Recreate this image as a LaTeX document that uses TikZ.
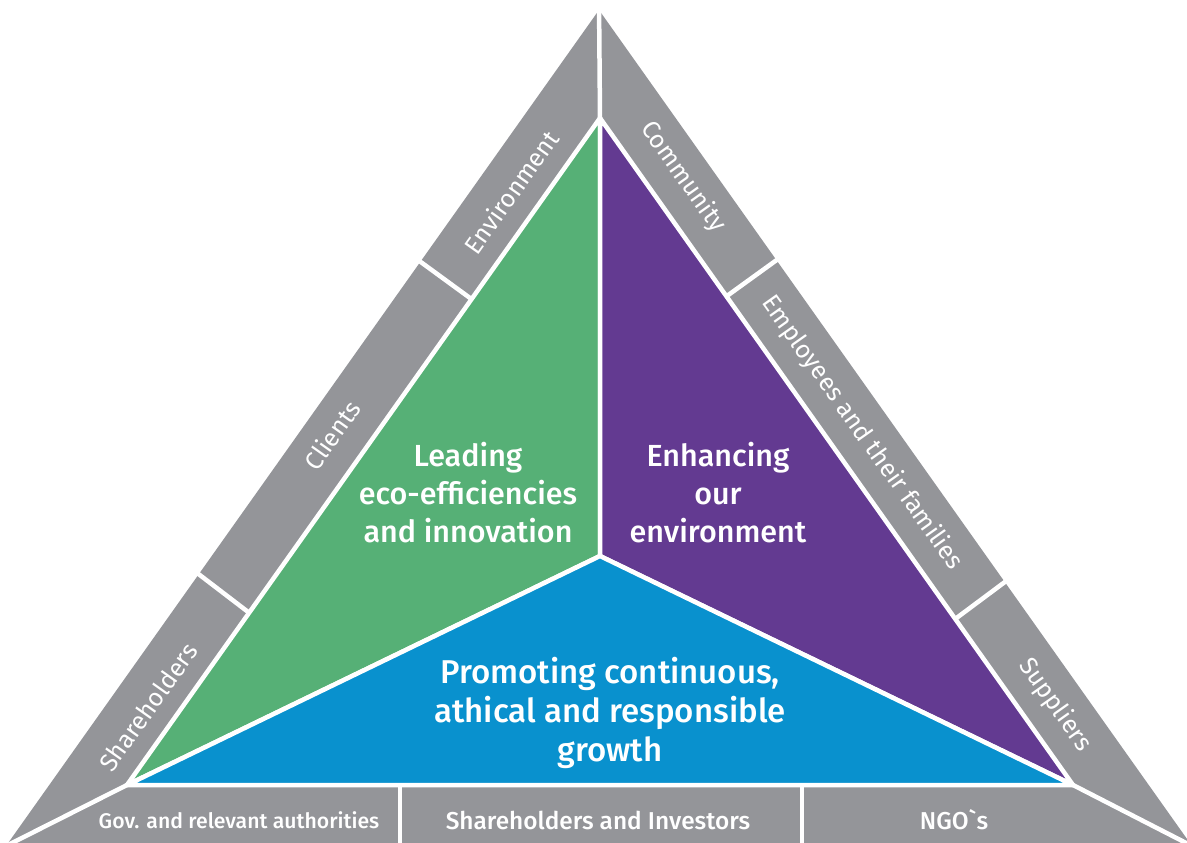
\documentclass[tikz,border=0pt]{standalone}
\usepackage{fontspec}
\setmainfont{Fira Sans}[BoldFont={Fira Sans SemiBold}]
\newfontfamily\firamedium{Fira Sans Medium}
\definecolor{bandgray}{RGB}{148,149,153}
\definecolor{leafgreen}{RGB}{86,176,118}
\definecolor{royalpurple}{RGB}{99,58,145}
\definecolor{skyblue}{RGB}{9,145,206}
\begin{document}
\begin{tikzpicture}[x=1pt,y=-1pt,
  sepline/.style={white,line width=4.5pt},
  sector/.style={draw=white,line width=4.5pt,line join=round},
  bandlabel/.style={text=white,font=\fontsize{25}{30}\selectfont,inner sep=0pt},
  baselabel/.style={text=white,font=\firamedium\fontsize{24.4}{30}\selectfont,inner sep=0pt},
  corelabel/.style={text=white,align=center,font=\firamedium\fontsize{30.5}{38}\selectfont,inner sep=0pt}]
\useasboundingbox (0,0) rectangle (1187,843);
\coordinate (OA) at (599,10);
\coordinate (OL) at (6,846);
\coordinate (OR) at (1192,846);
\coordinate (IA) at (600,118);
\coordinate (IL) at (127,785);
\coordinate (IR) at (1073,785);
\coordinate (C) at (600,556);
\begin{scope}
\clip (0,0) rectangle (1187,843);
\fill[bandgray] (OL) -- (OA) -- (OR) -- cycle;
% separators in the grey band
\draw[sepline] (599,0) -- (IA);
\draw[sepline] (IL) -- (OL);
\draw[sepline] (IR) -- (OR);
\draw[sepline] (392,241) -- (496,317);
\draw[sepline] (171,553) -- (273,631);
\draw[sepline] (803,241) -- (702,314);
\draw[sepline] (1029,564) -- (931,637);
\draw[sepline] (400,780) -- (400,850);
\draw[sepline] (802,780) -- (802,850);
% inner triangle
\filldraw[sector,fill=leafgreen] (IA) -- (IL) -- (C) -- cycle;
\filldraw[sector,fill=royalpurple] (IA) -- (IR) -- (C) -- cycle;
\filldraw[sector,fill=skyblue] (IL) -- (C) -- (IR) -- cycle;
\end{scope}
% labels of the band
\node[bandlabel,rotate=54.7] (env) at (511,192) {Environment};
\node[bandlabel,rotate=54.7] (cli) at (332,435) {Clients};
\node[bandlabel,rotate=54.7] (sha) at (148,707) {Shareholders};
\node[bandlabel,rotate=-54.7] (com) at (683,177) {Community};
\node[bandlabel,rotate=-54.7] (emp) at (862,433) {Employees and their families};
\node[bandlabel,rotate=-54.7] (sup) at (1055,705) {Suppliers};
\node[baselabel,font=\firamedium\fontsize{21.2}{26}\selectfont] (gov) at (239,820) {Gov. and relevant authorities};
\node[baselabel] (inv) at (598,820) {Shareholders and Investors};
\node[baselabel] (ngo) at (954,820) {NGO\textasciigrave s};
% core labels
\node[corelabel] (lead) at (468,493) {Leading\\eco-efficiencies\\and innovation};
\node[corelabel] (enh) at (718,493) {Enhancing\\our\\environment};
\node[corelabel,font=\firamedium\fontsize{33}{39}\selectfont] (prom) at (610,713) {Promoting continuous,\\athical and responsible\\growth};
\end{tikzpicture}
\end{document}
